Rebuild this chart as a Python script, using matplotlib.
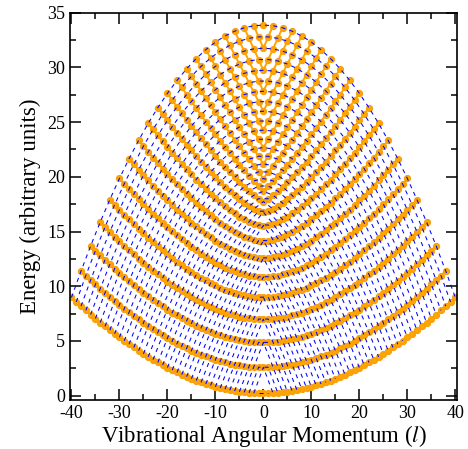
import numpy as np
from matplotlib import pyplot as plt
from matplotlib.ticker import MultipleLocator

plt.rcParams['font.family'] = ['Liberation Serif', 'DejaVu Serif']
plt.rcParams['mathtext.fontset'] = 'stix'
plt.rcParams['axes.unicode_minus'] = False

# energies (in 0.01 units) of each level n, listed for |l| = 0, 1, 2, ...
n0 = [20, 21, 22, 25, 30, 35, 42, 50, 59, 69, 80, 93, 107, 121, 137, 154, 173, 192, 212, 233, 256,
      279, 303, 329, 355, 382, 411, 440, 470, 501, 533, 565, 599, 633, 668, 705, 741, 779, 818, 857, 897]
n1 = [259, 260, 262, 266, 271, 277, 284, 293, 304, 315, 328, 342, 358, 375, 393, 412, 432, 454, 476, 500,
      525, 551, 578, 606, 635, 665, 696, 728, 761, 795, 830, 866, 902, 940, 978, 1017, 1057, 1098, 1139]
n2 = [486, 487, 489, 493, 499, 506, 515, 525, 537, 550, 565, 581, 599, 618, 638, 660, 683, 707, 733,
      759, 787, 816, 846, 877, 909, 942, 976, 1011, 1048, 1085, 1123, 1162, 1201, 1242, 1284, 1326, 1369]
n3 = [699, 700, 703, 708, 714, 723, 733, 745, 759, 774, 792, 810, 830, 852, 875, 900, 926, 953, 982,
      1012, 1043, 1075, 1108, 1142, 1178, 1214, 1252, 1291, 1330, 1371, 1412, 1454, 1498, 1542, 1587]
n4 = [899, 900, 904, 909, 917, 927, 940, 954, 970, 988, 1008, 1030, 1053, 1078, 1105, 1133, 1162, 1193,
      1225, 1258, 1293, 1329, 1366, 1404, 1443, 1483, 1524, 1567, 1610, 1654, 1699, 1745, 1792]
n5 = [1085, 1087, 1091, 1098, 1108, 1120, 1135, 1152, 1171, 1193, 1216, 1242, 1269, 1297, 1328, 1360,
      1393, 1428, 1464, 1501, 1540, 1579, 1620, 1662, 1705, 1750, 1795, 1841, 1888, 1936, 1985]
n6 = [1257, 1259, 1265, 1274, 1286, 1302, 1320, 1341, 1364, 1390, 1417, 1447, 1478, 1511, 1546, 1582,
      1620, 1659, 1700, 1741, 1784, 1828, 1873, 1919, 1967, 2015, 2064, 2114, 2165]
n7 = [1415, 1417, 1425, 1437, 1453, 1473, 1496, 1521, 1550, 1580, 1613, 1647, 1684, 1722, 1761, 1802,
      1845, 1889, 1934, 1980, 2027, 2076, 2125, 2176, 2227, 2280, 2333]
n8 = [1555, 1560, 1571, 1588, 1610, 1636, 1665, 1696, 1731, 1767, 1805, 1845, 1887, 1931, 1975, 2022,
      2069, 2118, 2168, 2219, 2271, 2324, 2378, 2433, 2489]
n9 = [1677, 1686, 1705, 1730, 1760, 1794, 1830, 1869, 1910, 1953, 1997, 2043, 2091, 2140, 2190, 2242,
      2294, 2348, 2403, 2459, 2516, 2573, 2632]
n10 = [1774, 1800, 1832, 1869, 1909, 1951, 1996, 2042, 2090, 2140, 2190, 2243, 2296, 2351, 2407, 2464,
       2522, 2581, 2640, 2701, 2763]
n11 = [1868, 1916, 1963, 2012, 2061, 2112, 2165, 2219, 2274, 2330, 2387, 2446, 2505, 2565, 2627, 2689,
       2752, 2817, 2881]
n12 = [1984, 2045, 2103, 2162, 2221, 2280, 2340, 2401, 2463, 2525, 2589, 2653, 2718, 2785, 2851, 2919, 2987]
n13 = [2118, 2188, 2255, 2322, 2388, 2455, 2522, 2590, 2658, 2727, 2796, 2866, 2937, 3009, 3081]
n14 = [2267, 2343, 2418, 2491, 2565, 2638, 2712, 2786, 2860, 2935, 3010, 3086, 3162]
n15 = [2427, 2510, 2591, 2671, 2751, 2830, 2910, 2990, 3070, 3150, 3231]
n16 = [2600, 2687, 2774, 2860, 2946, 3031, 3116, 3202, 3287]
n17 = [2782, 2875, 2967, 3059, 3149, 3240, 3331]
n18 = [2974, 3072, 3169, 3266, 3362]
n19 = [3176, 3279, 3381]
n20 = [3387]

levels = [n0, n1, n2, n3, n4, n5, n6, n7, n8, n9, n10,
          n11, n12, n13, n14, n15, n16, n17, n18, n19, n20]
levels = [np.array(e) / 100.0 for e in levels]
vmax = len(levels[0]) - 1

fig = plt.figure(figsize=(4.68, 4.49), dpi=100)
ax = fig.add_axes([0.1496, 0.1091, 0.8269, 0.8626])

# orange: same n, joined across l
for e in levels:
    m = len(e) - 1
    ls = np.arange(-m, m + 1)
    ax.plot(ls, e[np.abs(ls)], '-o', color='#FFA500', lw=1.4, ms=4.4,
            mfc='#FFA500', mec='#F7A010', mew=0.8, zorder=2)

# blue dashed: same v, joined across l
for v in range(vmax + 1):
    ls = np.arange(-v, v + 1, 2)
    es = [levels[(v - abs(l)) // 2][abs(l)] for l in ls]
    ax.plot(ls, es, '--', color='#0000FF', lw=0.75, dashes=(4, 4), zorder=3)

ax.set_xlim(-40.3, 40.35)
ax.set_ylim(-0.4, 35)
ax.xaxis.set_major_locator(MultipleLocator(10))
ax.xaxis.set_minor_locator(MultipleLocator(5))
ax.yaxis.set_major_locator(MultipleLocator(5))
ax.yaxis.set_minor_locator(MultipleLocator(2.5))
ax.tick_params(which='both', direction='in', top=True, right=True, width=1.1, labelsize=13)
ax.tick_params(which='major', length=8)
ax.tick_params(which='minor', length=4.5)
for s in ax.spines.values():
    s.set_linewidth(1.2)
ax.set_xlabel(r'Vibrational Angular Momentum ($\mathit{l}$)', fontsize=16.5, labelpad=1)
ax.set_ylabel('Energy (arbitrary units)', fontsize=16.5, labelpad=4)

fig.savefig('out.png')
